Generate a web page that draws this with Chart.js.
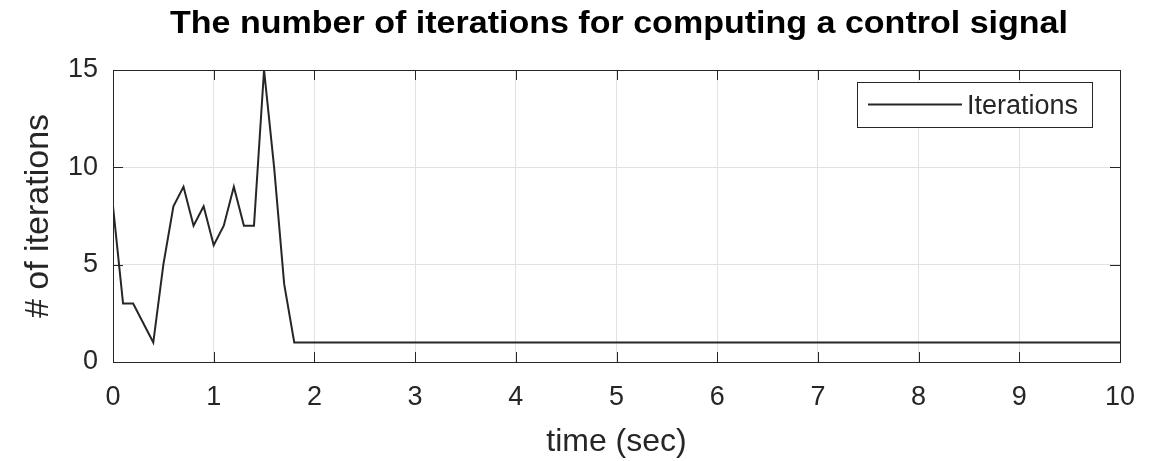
<!DOCTYPE html>
<html>
<head>
<meta charset="utf-8">
<script src="https://cdn.jsdelivr.net/npm/chart.js@4/dist/chart.umd.min.js"></script>
<style>
  html, body { margin: 0; padding: 0; background: #fff; }
  #wrap { width: 1163px; height: 461px; }
</style>
</head>
<body>
<div id="wrap"><canvas id="grafica" width="1163" height="461"></canvas></div>
<script>
// datos
var tiempos = [0, 0.1, 0.2, 0.3, 0.4, 0.5, 0.6, 0.7, 0.8, 0.9, 1.0, 1.1, 1.2, 1.3, 1.4, 1.5, 1.6, 1.7, 1.8, 10];
var iteraciones = [8, 3, 3, 2, 1, 5, 8, 9, 7, 8, 6, 7, 9, 7, 7, 15, 10, 4, 1, 1];
var ticksX = [0, 1, 2, 3, 4, 5, 6, 7, 8, 9, 10];
var ticksY = [0, 5, 10, 15];
var titulo = 'The number of iterations for computing a control signal';
var nombreSerie = 'Iterations';

var puntos = tiempos.map(function (t, i) { return { x: t, y: iteraciones[i] }; });
var tinta = '#262626';
var fuente = "'Liberation Sans', Arial, sans-serif";

// caja, marcas interiores, titulo y leyenda al estilo matlab
var extras = {
  id: 'extras',
  afterDraw: function (chart) {
    var ctx = chart.ctx;
    var a = chart.chartArea;
    var sx = chart.scales.x, sy = chart.scales.y;
    ctx.save();
    ctx.strokeStyle = tinta;
    ctx.lineWidth = 1;
    ctx.beginPath();
    ticksX.forEach(function (v) {
      var px = Math.round(sx.getPixelForValue(v)) + 0.5;
      ctx.moveTo(px, a.bottom); ctx.lineTo(px, a.bottom - 10);
      ctx.moveTo(px, a.top); ctx.lineTo(px, a.top + 10);
    });
    ticksY.forEach(function (v) {
      var py = Math.round(sy.getPixelForValue(v)) + 0.5;
      ctx.moveTo(a.left, py); ctx.lineTo(a.left + 10, py);
      ctx.moveTo(a.right, py); ctx.lineTo(a.right - 10, py);
    });
    ctx.stroke();
    ctx.strokeRect(Math.round(a.left) + 0.5, Math.round(a.top) + 0.5, Math.round(a.right - a.left), Math.round(a.bottom - a.top));

    // titulo
    ctx.fillStyle = '#000';
    ctx.font = 'bold 32px ' + fuente;
    ctx.textAlign = 'center';
    ctx.textBaseline = 'alphabetic';
    var w = ctx.measureText(titulo).width;
    ctx.translate(619, 33);
    ctx.scale(898 / w, 1);
    ctx.fillText(titulo, 0, 0);
    ctx.setTransform(1, 0, 0, 1, 0, 0);

    // leyenda
    ctx.fillStyle = '#fff';
    ctx.fillRect(857, 82, 235, 45);
    ctx.strokeStyle = tinta;
    ctx.strokeRect(857.5, 82.5, 235, 45);
    ctx.lineWidth = 2;
    ctx.beginPath();
    ctx.moveTo(868, 104.5); ctx.lineTo(962, 104.5);
    ctx.stroke();
    ctx.fillStyle = tinta;
    ctx.font = '27px ' + fuente;
    ctx.textAlign = 'left';
    ctx.textBaseline = 'alphabetic';
    ctx.fillText(nombreSerie, 967, 114);
    ctx.restore();
  }
};

var chart = new Chart(document.getElementById('grafica').getContext('2d'), {
  type: 'line',
  data: {
    datasets: [{
      label: nombreSerie,
      data: puntos,
      borderColor: tinta,
      borderWidth: 2,
      pointRadius: 0,
      fill: false,
      tension: 0
    }]
  },
  options: {
    responsive: false,
    animation: false,
    layout: { padding: { top: 70, right: 43, left: 0, bottom: 0 } },
    plugins: {
      legend: { display: false },
      title: { display: false },
      tooltip: { enabled: false }
    },
    scales: {
      x: {
        type: 'linear',
        min: 0, max: 10,
        afterBuildTicks: function (s) { s.ticks = ticksX.map(function (v) { return { value: v }; }); },
        afterFit: function (s) { s.height = 99; },
        grid: { color: '#e2e2e2', lineWidth: 1, drawTicks: false },
        border: { color: tinta, width: 1 },
        ticks: { color: tinta, padding: 19, maxRotation: 0, font: { family: fuente, size: 27 } },
        title: { display: true, text: 'time (sec)', color: tinta, font: { family: fuente, size: 32 }, padding: { top: 0, bottom: 0 } }
      },
      y: {
        min: 0, max: 15,
        afterBuildTicks: function (s) { s.ticks = ticksY.map(function (v) { return { value: v }; }); },
        afterFit: function (s) { s.width = 113; },
        grid: { color: '#e2e2e2', lineWidth: 1, drawTicks: false },
        border: { color: tinta, width: 1 },
        ticks: { color: tinta, padding: 15, font: { family: fuente, size: 27 } },
        title: { display: true, text: '# of iterations', color: tinta, font: { family: fuente, size: 34 }, padding: { top: 18, bottom: 0 } }
      }
    }
  },
  plugins: [extras]
});
</script>
</body>
</html>
